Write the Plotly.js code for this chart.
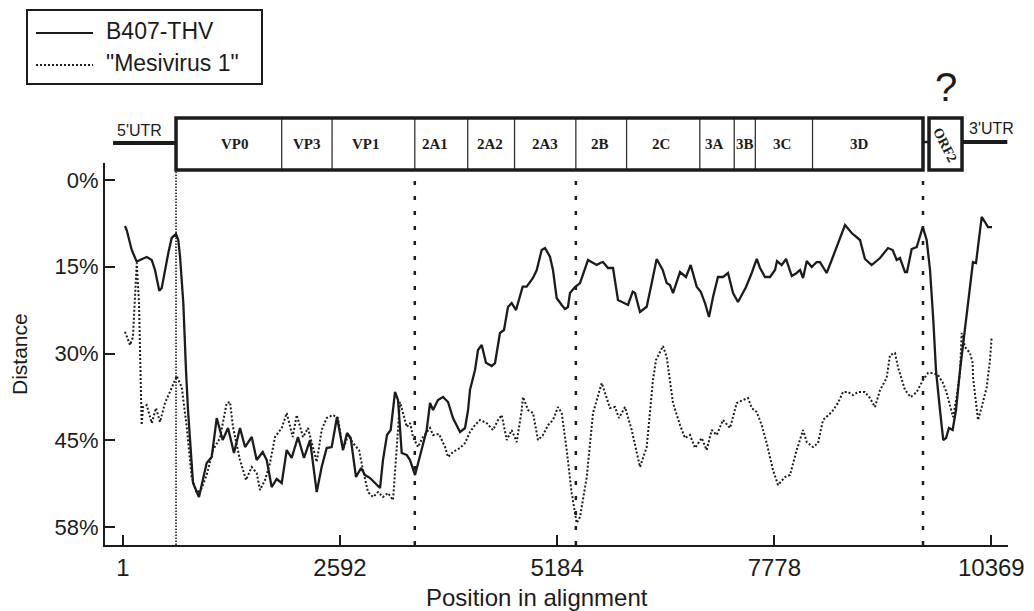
<!DOCTYPE html>
<html><head><meta charset="utf-8">
<script src="https://cdn.plot.ly/plotly-3.0.1.min.js"></script>
<style>body{margin:0;background:#fff}#chart{width:1034px;height:611px}</style>
</head><body><div id="chart"></div>
<script>
// ---------- data ----------
const seriesNames = ['B407-THV', '"Mesivirus 1"'];

const solidX = [25,45,105,165,204,284,344,383,434,463,542,582,634,661,682,721,753,777,837,908,1000,1060,1120,1191,1255,1326,1398,1458,1538,1597,1669,1717,1776,1836,1896,1956,2015,2090,2162,2234,2314,2373,2433,2493,2556,2628,2676,2720,2783,2843,2891,2951,3010,3070,3105,3153,3197,3249,3285,3329,3389,3428,3488,3547,3627,3667,3703,3762,3822,3882,3941,4025,4085,4121,4144,4204,4240,4284,4335,4403,4443,4502,4550,4598,4642,4694,4773,4821,4896,4941,5000,5040,5099,5135,5179,5239,5278,5314,5338,5398,5458,5553,5597,5657,5697,5732,5792,5852,5911,5995,6031,6087,6114,6174,6254,6314,6373,6445,6493,6532,6568,6652,6723,6779,6851,6899,6950,6998,7046,7105,7165,7225,7285,7344,7440,7508,7568,7607,7667,7726,7786,7810,7866,7918,7986,8045,8085,8121,8165,8224,8284,8323,8403,8463,8538,8622,8702,8801,8860,8940,9040,9135,9191,9239,9278,9338,9362,9418,9478,9518,9550,9597,9637,9676,9708,9756,9795,9828,9863,9907,9947,9995,10054,10114,10150,10186,10210,10254,10293,10329,10377];
const solidY = [7.69,8.36,11.70,13.66,13.37,12.87,13.37,15.04,18.50,18.05,12.20,9.69,9.03,10.03,12.82,20.56,31.76,38.44,50.64,52.98,47.30,46.30,39.78,43.46,41.45,45.63,41.45,44.63,42.95,46.80,45.46,46.80,51.31,49.97,50.64,45.13,46.46,42.95,46.46,43.46,52.15,47.97,44.79,44.63,39.61,45.13,42.29,43.12,49.64,48.14,49.31,49.81,50.64,51.48,46.80,42.62,41.79,35.43,36.77,45.63,45.96,46.80,49.31,46.30,41.79,37.27,38.44,36.77,36.27,37.10,39.78,42.12,41.45,38.44,35.10,31.76,28.41,27.58,30.54,31.09,30.59,25.57,25.07,21.23,20.56,21.73,17.83,17.83,16.38,15.04,11.70,11.37,12.82,15.04,19.72,20.89,21.56,21.23,18.89,17.88,17.22,13.37,13.71,14.21,13.87,13.71,14.71,14.71,20.06,20.56,20.89,18.67,18.89,22.06,21.18,17.22,13.20,15.04,17.22,17.55,18.89,15.38,16.21,14.21,17.83,18.67,20.56,22.90,19.56,16.21,16.21,15.54,18.89,20.39,17.88,15.54,13.20,14.71,16.21,16.21,15.04,13.54,14.21,13.20,16.05,15.54,15.04,16.38,13.54,14.54,13.71,13.71,15.54,13.37,10.53,7.52,8.86,10.03,13.20,14.21,13.04,11.37,11.70,13.37,13.04,15.38,15.38,11.53,11.20,9.53,7.86,10.03,15.04,23.40,31.76,38.44,43.46,43.12,41.45,41.79,38.44,31.76,24.57,17.22,13.71,13.87,11.20,6.18,7.02,7.86,7.86];

const dotX = [25,85,120,144,165,192,212,224,240,284,344,395,443,502,582,642,702,762,821,881,941,1000,1076,1159,1239,1279,1314,1398,1470,1538,1597,1637,1697,1756,1816,1896,1956,2027,2075,2150,2210,2270,2314,2373,2433,2508,2568,2628,2688,2747,2819,2867,2926,2986,3046,3105,3165,3225,3269,3308,3344,3389,3428,3464,3523,3583,3667,3703,3774,3846,3882,3941,4025,4085,4144,4204,4264,4343,4419,4479,4523,4583,4642,4702,4762,4777,4837,4897,4956,5016,5076,5135,5195,5239,5299,5358,5418,5458,5538,5613,5717,5816,5876,5923,5995,6075,6174,6254,6329,6365,6448,6493,6568,6652,6711,6771,6831,6911,6970,7030,7090,7165,7249,7329,7404,7464,7508,7568,7627,7687,7762,7822,7905,7965,8045,8121,8165,8240,8300,8359,8463,8538,8598,8658,8717,8777,8860,8920,8980,9040,9119,9159,9219,9254,9338,9406,9478,9553,9613,9672,9732,9792,9836,9875,9911,9955,9995,10015,10054,10114,10146,10150,10210,10254,10314,10353,10373];
const dotY = [25.36,27.58,26.24,19.56,13.87,20.56,31.76,40.95,37.94,37.61,40.62,38.11,40.45,37.27,34.76,32.76,34.60,41.28,49.64,52.32,51.48,49.31,45.13,43.12,37.27,37.10,41.28,46.80,50.14,47.97,48.97,51.81,50.14,47.30,42.95,41.45,38.94,42.95,39.28,42.95,41.45,44.63,47.13,41.79,39.78,39.28,39.78,45.13,42.62,43.96,45.13,48.47,52.15,52.98,52.15,52.98,52.32,53.48,45.63,37.10,38.94,41.28,40.62,42.95,44.63,42.95,41.45,42.62,42.45,44.63,46.30,45.46,44.79,43.96,42.12,40.95,40.11,40.62,41.79,40.11,39.28,43.46,41.79,43.79,38.44,36.27,38.44,38.94,43.46,42.62,40.95,40.11,37.94,38.94,45.13,52.32,57.33,56.33,49.64,38.94,33.93,38.11,37.94,39.78,37.94,41.79,47.97,44.63,33.43,30.09,27.75,29.58,37.27,40.95,43.12,42.62,44.79,43.12,45.13,41.79,42.62,40.11,41.45,37.27,36.77,36.44,38.11,38.78,40.95,43.96,48.47,50.98,49.64,49.31,45.13,41.79,43.79,44.63,43.96,40.11,38.78,37.27,35.43,35.43,35.94,35.43,35.43,36.44,37.94,35.10,33.09,29.25,28.92,31.25,35.10,36.27,35.43,33.43,32.26,32.26,32.59,33.93,35.60,37.94,39.61,36.27,32.26,25.57,27.91,28.92,30.59,32.93,40.11,37.94,34.60,30.09,26.24];

const xTickVals = [1, 2592, 5184, 7778, 10369];
const xTickText = ['1', '2592', '5184', '7778', '10369'];
const yTickVals = [0, 14.5, 29, 43.5, 58];
const yTickText = ['0%', '15%', '30%', '45%', '58%'];

// genome map (alignment positions)
const geneNames  = ['VP0','VP3','VP1','2A1','2A2','2A3','2B','2C','3A','3B','3C','3D'];
const geneStarts = [634,1896,2497,3485,4117,4676,5408,6014,6888,7299,7551,8234];
const polyEnd = 9553;
const geneLabelX = [1338,2198,2902,3726,4383,5040,5697,6425,7058,7428,7870,8789];
const orf2Range = [9625, 10019];
const utr5Range = [-118, 634];
const utr3Range = [10019, 10560];
const boundaryLines = [634, 3485, 5408, 9553];

// ---------- layout helpers ----------
const L = 105, R = 1008, T = 163, B = 545;
const px = v => (v - L) / (R - L);
const py = v => (B - v) / (B - T);
const FONT = 'Liberation Sans, Arial, sans-serif';
const SERIF = 'Liberation Serif, Times New Roman, serif';
const INK = '#1c1c1c';

const traces = [
  {x: solidX, y: solidY, name: seriesNames[0], type: 'scatter', mode: 'lines',
   line: {color: INK, width: 2.3}, hoverinfo: 'x+y'},
  {x: dotX, y: dotY, name: seriesNames[1], type: 'scatter', mode: 'lines',
   line: {color: INK, width: 2, dash: '2px,2px'}, hoverinfo: 'x+y'}
];

const shapes = [];
const annotations = [];
function label(x, y, text, size, opts) {
  annotations.push(Object.assign({xref: 'paper', yref: 'paper', x: x, y: y, text: text, showarrow: false,
    xanchor: 'center', yanchor: 'middle', font: {family: FONT, size: size, color: INK}}, opts || {}));
}

// vertical boundary lines
boundaryLines.forEach((bx, i) => {
  if (i === 0) {
    shapes.push({type: 'line', xref: 'x', yref: 'paper', x0: bx, x1: bx, y0: 0, y1: py(170),
      line: {color: INK, width: 1.6, dash: '1.5px,1.5px'}});
  } else {
    shapes.push({type: 'line', xref: 'x', yref: 'paper', x0: bx, x1: bx, y0: 0, y1: py(178),
      line: {color: INK, width: 2.5, dash: '4px,11px'}});
  }
});

// UTR lines
shapes.push({type: 'line', xref: 'x', yref: 'paper', x0: utr5Range[0], x1: utr5Range[1], y0: py(143), y1: py(143),
  line: {color: INK, width: 4}});
shapes.push({type: 'line', xref: 'x', yref: 'paper', x0: utr3Range[0], x1: utr3Range[1], y0: py(142), y1: py(142),
  line: {color: INK, width: 4}});
// connector between polyprotein and ORF2
shapes.push({type: 'line', xref: 'x', yref: 'paper', x0: polyEnd, x1: orf2Range[0], y0: py(142), y1: py(142),
  line: {color: INK, width: 2.5}});

// gene dividers
geneStarts.slice(1).forEach(g => {
  shapes.push({type: 'line', xref: 'x', yref: 'paper', x0: g, x1: g, y0: py(170), y1: py(118),
    line: {color: '#333', width: 1.3}});
});
// polyprotein box
shapes.push({type: 'rect', xref: 'x', yref: 'paper', x0: geneStarts[0], x1: polyEnd, y0: py(170), y1: py(118),
  line: {color: INK, width: 3.5}, fillcolor: 'rgba(0,0,0,0)'});
// ORF2 box
shapes.push({type: 'rect', xref: 'x', yref: 'paper', x0: orf2Range[0], x1: orf2Range[1], y0: py(170), y1: py(118),
  line: {color: INK, width: 3.5}, fillcolor: 'rgba(0,0,0,0)'});

geneNames.forEach((g, i) => {
  annotations.push({xref: 'x', yref: 'paper', x: geneLabelX[i], y: py(144), text: '<b>' + g + '</b>',
    showarrow: false, font: {family: SERIF, size: 15, color: INK}, xanchor: 'center', yanchor: 'middle'});
});
annotations.push({xref: 'x', yref: 'paper', x: (orf2Range[0] + orf2Range[1]) / 2, y: py(145), text: '<b>ORF2</b>',
  showarrow: false, textangle: 63, xanchor: 'center', yanchor: 'middle',
  font: {family: SERIF, size: 14, color: INK}});
label(px(139.5), py(130), "5'UTR", 16);
label(px(991), py(128), "3'UTR", 16);
label(px(946), py(87), '?', 40);

// axis titles
label(px(537), py(597), 'Position in alignment', 24);
label(px(19), py(354), 'Distance', 21, {textangle: -90});

// legend (manual)
shapes.push({type: 'rect', xref: 'paper', yref: 'paper', x0: px(27), x1: px(262), y0: py(84), y1: py(10),
  line: {color: INK, width: 2}, fillcolor: 'white'});
shapes.push({type: 'line', xref: 'paper', yref: 'paper', x0: px(36), x1: px(93), y0: py(33), y1: py(33),
  line: {color: INK, width: 2.2}});
shapes.push({type: 'line', xref: 'paper', yref: 'paper', x0: px(36), x1: px(93), y0: py(65), y1: py(65),
  line: {color: INK, width: 2, dash: '2px,2px'}});
label(px(104), py(31), seriesNames[0], 23, {xanchor: 'left'});
label(px(104), py(63), seriesNames[1], 23, {xanchor: 'left'});

const layout = {
  width: 1034, height: 611, autosize: false,
  margin: {l: L, r: 1034 - R, t: T, b: 611 - B, pad: 0},
  paper_bgcolor: 'white', plot_bgcolor: 'white',
  showlegend: false,
  font: {family: FONT, color: INK},
  xaxis: {
    range: [-214, 10568], tickvals: xTickVals, ticktext: xTickText,
    ticks: 'inside', ticklen: 10, tickwidth: 2, tickcolor: INK,
    showline: true, linewidth: 2, linecolor: INK, showgrid: false, zeroline: false,
    tickfont: {family: 'Liberation Sans Narrow, Arial Narrow, Liberation Sans, sans-serif', size: 24, color: INK},
    ticklabelstandoff: 0
  },
  yaxis: {
    range: [61.0, -2.84], tickvals: yTickVals, ticktext: yTickText,
    ticks: 'inside', ticklen: 10, tickwidth: 2, tickcolor: INK,
    showline: true, linewidth: 2, linecolor: INK, showgrid: false, zeroline: false,
    tickfont: {family: FONT, size: 22, color: INK}
  },
  shapes: shapes,
  annotations: annotations
};

Plotly.newPlot('chart', traces, layout, {staticPlot: true, displayModeBar: false});
</script>
</body></html>
